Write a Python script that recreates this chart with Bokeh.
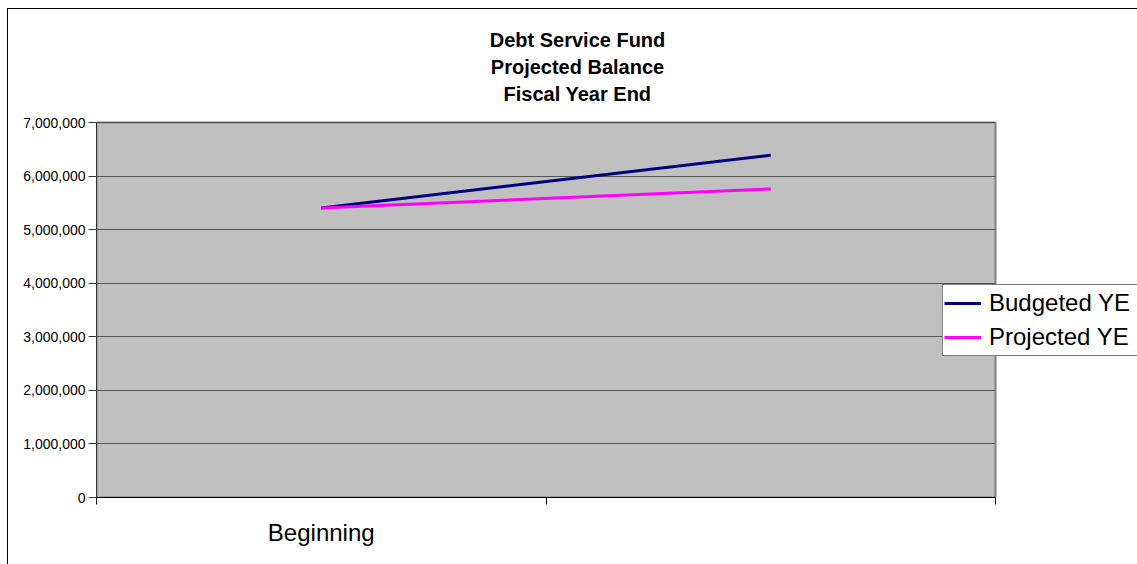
from bokeh.plotting import figure
from bokeh.models import (Range1d, FixedTicker, NumeralTickFormatter, Legend,
                          LegendItem, Label)
from bokeh.embed import file_html
from bokeh.resources import INLINE

# ---- data ----
categories = ["Beginning", ""]
budgeted_ye = [5405000, 6390000]
projected_ye = [5405000, 5760000]
y_ticks = [0, 1000000, 2000000, 3000000, 4000000, 5000000, 6000000, 7000000]
title_lines = ["Debt Service Fund", "Projected Balance", "Fiscal Year End"]
series_names = ["Budgeted YE", "Projected YE"]
series_colors = ["#000080", "#FF00FF"]

FONT = "Liberation Sans"

# ---- layout (pixels) ----
PLOT_W, PLOT_H = 899, 375          # grey plot area
FRAME_W, FRAME_H = 1041, 488        # frame extends right / up to hold legend and title
x_max = len(categories)
y_max = y_ticks[-1]

x_centers = [i + 0.5 for i in range(len(categories))]
x_bounds = list(range(len(categories) + 1))

p = figure(output_backend="svg", toolbar_location=None, title=None,
           frame_width=FRAME_W, frame_height=FRAME_H,
           min_border_left=88, min_border_right=0,
           min_border_top=0, min_border_bottom=67,
           x_range=Range1d(0, x_max * FRAME_W / PLOT_W),
           y_range=Range1d(0, y_max * FRAME_H / PLOT_H))
p.styles = {"margin-left": "7px", "margin-top": "8px",
            "border-left": "1px solid #000000", "border-top": "1px solid #000000"}

p.background_fill_color = "#FFFFFF"
p.border_fill_color = "#FFFFFF"
p.outline_line_color = None

# grey plot area
p.quad(left=0, right=x_max, bottom=0, top=y_max, fill_color="#C0C0C0",
       line_color="#808080", line_width=2, level="image")

# y axis
p.yaxis.bounds = (0, y_max)
p.yaxis.ticker = FixedTicker(ticks=y_ticks)
p.yaxis.formatter = NumeralTickFormatter(format="0,0")
p.yaxis.major_label_text_font = FONT
p.yaxis.major_label_text_font_size = "14px"
p.yaxis.major_label_text_color = "#000000"
p.yaxis.major_tick_out = 8
p.yaxis.major_tick_in = 0
p.yaxis.minor_tick_line_color = None
p.yaxis.major_label_standoff = 3
p.yaxis.axis_line_color = "#333333"
p.yaxis.major_tick_line_color = "#333333"

# x axis
p.xaxis.bounds = (0, x_max)
p.xaxis.ticker = FixedTicker(ticks=x_centers, minor_ticks=x_bounds)
p.xaxis.major_label_overrides = {x: c for x, c in zip(x_centers, categories)}
p.xaxis.major_tick_line_color = None
p.xaxis.major_tick_out = 0
p.xaxis.major_tick_in = 0
p.xaxis.minor_tick_out = 7
p.xaxis.minor_tick_in = 0
p.xaxis.minor_tick_line_color = "#000000"
p.xaxis.axis_line_color = "#000000"
p.xaxis.major_label_text_font = FONT
p.xaxis.major_label_text_font_size = "24px"
p.xaxis.major_label_text_color = "#000000"
p.xaxis.major_label_standoff = 14

p.xgrid.grid_line_color = None
p.ygrid.ticker = FixedTicker(ticks=y_ticks)
p.ygrid.cross_bounds = (0, x_max)
p.ygrid.grid_line_color = "#555555"
p.ygrid.grid_line_width = 1

r1 = p.line(x_centers, budgeted_ye, line_color=series_colors[0], line_width=3)
r2 = p.line(x_centers, projected_ye, line_color=series_colors[1], line_width=3)

legend = Legend(items=[LegendItem(label=series_names[0], renderers=[r1]),
                       LegendItem(label=series_names[1], renderers=[r2])],
                location=(846, 141))
legend.label_text_font = FONT
legend.label_text_font_size = "24px"
legend.label_text_color = "#000000"
legend.glyph_width = 37
legend.glyph_height = 34
legend.label_height = 34
legend.label_width = 150
legend.label_standoff = 8
legend.padding = 1
legend.spacing = 0
legend.margin = 0
legend.border_line_color = "#000000"
legend.border_line_width = 1
legend.background_fill_color = "#FFFFFF"
legend.background_fill_alpha = 1
p.add_layout(legend, "center")

title_baselines = [457.3, 430.5, 403.7]
for line, yb in zip(title_lines, title_baselines):
    p.add_layout(Label(x=481, y=yb, x_units="screen", y_units="screen",
                       text=line, text_align="center", text_baseline="alphabetic",
                       text_font=FONT, text_font_size="20px",
                       text_font_style="bold", text_color="#000000"))

open("out.html", "w").write(file_html(p, INLINE))
